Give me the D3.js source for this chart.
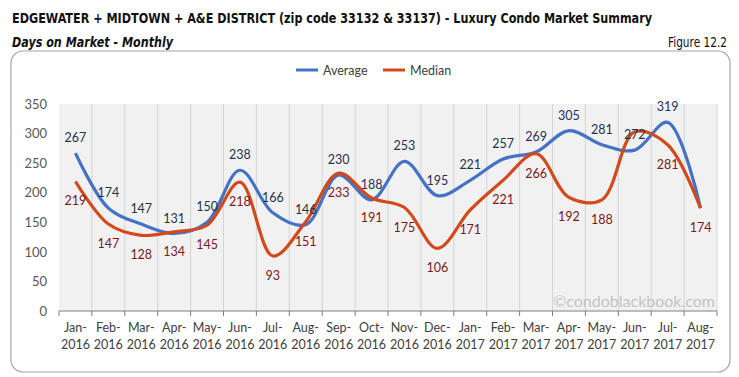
<!DOCTYPE html>
<html>
<head>
<meta charset="utf-8">
<script src="https://cdn.jsdelivr.net/npm/d3@7"></script>
<style>
  body { margin: 0; background: #fff; }
  svg text { font-family: Lato, "Open Sans", sans-serif; }
</style>
</head>
<body>
<div id="chart"></div>
<script>
'use strict';

const months = ['Jan-2016', 'Feb-2016', 'Mar-2016', 'Apr-2016', 'May-2016', 'Jun-2016', 'Jul-2016', 'Aug-2016',
  'Sep-2016', 'Oct-2016', 'Nov-2016', 'Dec-2016', 'Jan-2017', 'Feb-2017', 'Mar-2017', 'Apr-2017',
  'May-2017', 'Jun-2017', 'Jul-2017', 'Aug-2017'];
const average = [267, 174, 147, 131, 150, 238, 166, 146, 230, 188, 253, 195, 221, 257, 269, 305, 281, 272, 319, 174];
const median = [219, 147, 128, 134, 145, 218, 93, 151, 233, 191, 175, 106, 171, 221, 266, 192, 188, 303, 281, 174];
// labels the original leaves out (Aug-2017 average, Jun-2017 median)
const averageLabelShown = average.map((v, i) => i !== 19);
const medianLabelShown = median.map((v, i) => i !== 17);
const yTicks = [0, 50, 100, 150, 200, 250, 300, 350];

const W = 739, H = 377;
const margin = {left: 59, right: 22, top: 104, bottom: 66};

const svg = d3.select('#chart').append('svg')
    .attr('width', W)
    .attr('height', H);

const narrow = '"Liberation Sans Narrow", "DejaVu Sans Condensed", "Arial Narrow", sans-serif';

svg.append('text')
    .attr('x', 12).attr('y', 23)
    .attr('textLength', 640)
    .attr('lengthAdjust', 'spacingAndGlyphs')
    .style('font-family', narrow)
    .style('font-weight', 'bold')
    .style('font-size', '13.5px')
    .attr('fill', '#111')
    .text('EDGEWATER + MIDTOWN + A&E DISTRICT (zip code 33132 & 33137) - Luxury Condo Market Summary');

svg.append('text')
    .attr('x', 12).attr('y', 47)
    .attr('textLength', 161)
    .attr('lengthAdjust', 'spacingAndGlyphs')
    .style('font-family', narrow)
    .style('font-weight', 'bold')
    .style('font-style', 'italic')
    .style('font-size', '14px')
    .attr('fill', '#111')
    .text('Days on Market - Monthly');

svg.append('text')
    .attr('x', 668).attr('y', 47)
    .attr('textLength', 59)
    .attr('lengthAdjust', 'spacingAndGlyphs')
    .style('font-family', narrow)
    .style('font-size', '14px')
    .attr('fill', '#111')
    .text('Figure 12.2');

svg.append('rect')
    .attr('x', 11).attr('y', 51)
    .attr('width', 719).attr('height', 321)
    .attr('rx', 12)
    .attr('fill', 'none')
    .attr('stroke', '#a6a6a6')
    .attr('stroke-width', 1.2);

const x = d3.scaleBand().domain(months).range([margin.left, W - margin.right]);
const y = d3.scaleLinear().domain([0, 350]).range([H - margin.bottom, margin.top]);

const graph = svg.append('g');

graph.append('rect')
    .attr('x', x.range()[0]).attr('y', y(350))
    .attr('width', x.range()[1] - x.range()[0])
    .attr('height', y(0) - y(350))
    .attr('fill', '#f1f1f1');

graph.append('g')
  .selectAll('line')
  .data(months.slice(1))
  .join('line')
    .attr('x1', d => x(d)).attr('x2', d => x(d))
    .attr('y1', y(350)).attr('y2', y(0))
    .attr('stroke', '#d4d4d4');

graph.append('line')
    .attr('x1', x.range()[1]).attr('x2', x.range()[1])
    .attr('y1', y(350)).attr('y2', y(0))
    .attr('stroke', '#d4d4d4');

graph.append('text')
    .attr('x', 715).attr('y', 307)
    .attr('text-anchor', 'end')
    .style('font-size', '16px')
    .attr('fill', '#c4c4c4')
    .text('©condoblackbook.com');

const yAxis = d3.axisLeft(y).tickValues(yTicks).tickSize(0).tickPadding(12);
const yg = graph.append('g')
    .attr('transform', `translate(${margin.left}, 0)`)
    .call(yAxis);
yg.select('.domain').remove();
yg.selectAll('text')
    .style('font-size', '13px')
    .attr('fill', '#595959');

const bounds = months.map(d => x(d)).concat([x.range()[1]]);
graph.append('line')
    .attr('x1', x.range()[0]).attr('x2', x.range()[1])
    .attr('y1', y(0)).attr('y2', y(0))
    .attr('stroke', '#7f7f7f');
graph.append('g')
  .selectAll('line')
  .data(bounds)
  .join('line')
    .attr('x1', d => d).attr('x2', d => d)
    .attr('y1', y(0)).attr('y2', y(0) + 5)
    .attr('stroke', '#7f7f7f');

const xl = graph.append('g')
  .selectAll('text')
  .data(months)
  .join('text')
    .attr('x', d => x(d) + x.bandwidth() / 2)
    .attr('text-anchor', 'middle')
    .style('font-size', '12.5px')
    .attr('fill', '#404040');
xl.append('tspan')
    .attr('x', d => x(d) + x.bandwidth() / 2)
    .attr('y', 332)
    .text(d => d.split('-')[0] + '-');
xl.append('tspan')
    .attr('x', d => x(d) + x.bandwidth() / 2)
    .attr('y', 349)
    .text(d => d.split('-')[1]);

const cx = i => x(months[i]) + x.bandwidth() / 2;
const line = d3.line()
    .x((d, i) => cx(i))
    .y(d => y(d))
    .curve(d3.curveCatmullRom.alpha(0.5));

graph.append('path')
    .attr('d', line(average))
    .attr('fill', 'none')
    .attr('stroke', '#4472c4')
    .attr('stroke-width', 3.2);

graph.append('path')
    .attr('d', line(median))
    .attr('fill', 'none')
    .attr('stroke', '#d24a1c')
    .attr('stroke-width', 3.2);

graph.append('g')
  .selectAll('text')
  .data(average.map((v, i) => ({v, i})).filter(d => averageLabelShown[d.i]))
  .join('text')
    .attr('x', d => cx(d.i))
    .attr('y', d => y(d.v) - 11)
    .attr('text-anchor', 'middle')
    .style('font-size', '12.5px')
    .attr('fill', '#1f3350')
    .text(d => d.v);

graph.append('g')
  .selectAll('text')
  .data(median.map((v, i) => ({v, i})).filter(d => medianLabelShown[d.i]))
  .join('text')
    .attr('x', d => cx(d.i))
    .attr('y', d => y(d.v) + 24)
    .attr('text-anchor', 'middle')
    .style('font-size', '12.5px')
    .attr('fill', '#7a1a1a')
    .text(d => d.v);

// legend
const legend = svg.append('g');
const items = [{name: 'Average', color: '#4472c4', x: 296}, {name: 'Median', color: '#d24a1c', x: 383}];
items.forEach(it => {
  legend.append('line')
      .attr('x1', it.x).attr('x2', it.x + 22)
      .attr('y1', 70).attr('y2', 70)
      .attr('stroke', it.color)
      .attr('stroke-width', 3);
  legend.append('text')
      .attr('x', it.x + 27).attr('y', 74.5)
      .style('font-size', '12.5px')
      .attr('fill', '#404040')
      .text(it.name);
});
</script>
</body>
</html>
